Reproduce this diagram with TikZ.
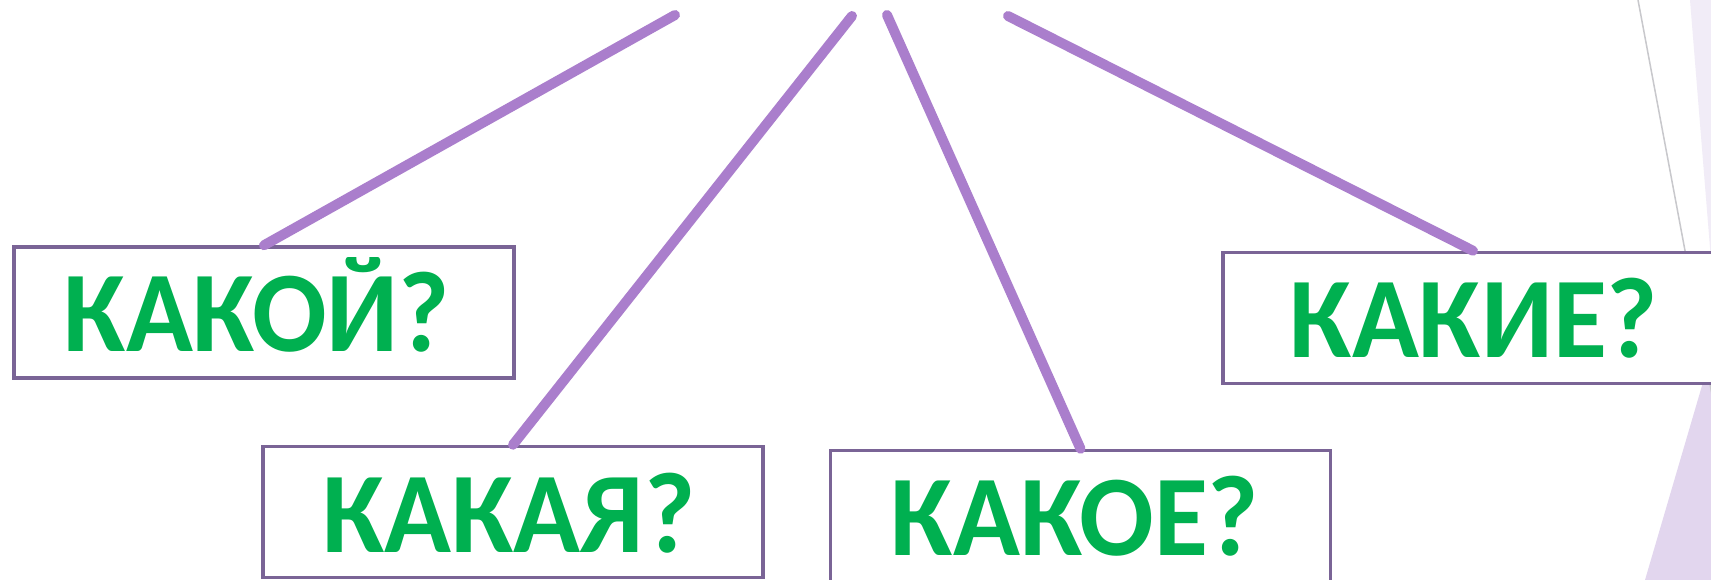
\documentclass[tikz,border=0pt]{standalone}
\usepackage{fontspec}
\setmainfont{Carlito}
\newfontfamily\qfont[FakeStretch=0.96]{Carlito}
\definecolor{linkc}{RGB}{170,126,204}
\definecolor{boxc}{RGB}{122,100,150}
\definecolor{txtc}{RGB}{0,176,80}
\definecolor{lavA}{RGB}{226,214,238}
\definecolor{lavB}{RGB}{241,236,247}
\definecolor{grayline}{RGB}{200,200,204}
\tikzset{
  qbox/.style={draw=boxc, line width=3.5pt, fill=white, minimum width=500pt, minimum height=131pt, inner sep=0pt},
  qtxt/.style={inner sep=0pt, anchor=base, text=txtc, font=\qfont\fontsize{115}{115}\selectfont\bfseries},
  link/.style={draw=linkc, line width=10pt, line cap=round}
}
\begin{document}
\begin{tikzpicture}[x=1pt,y=-1pt]
\useasboundingbox (0,0) rectangle (1711,580);
\clip (0,0) rectangle (1711,580);
\fill[white] (0,0) rectangle (1711,580);
% right-side theme decoration
\fill[lavB] (1690,0) -- (1711,0) -- (1711,260) -- cycle;
\fill[lavA] (1645,580) -- (1711,355) -- (1711,580) -- cycle;
\draw[grayline, line width=1.5pt] (1638,0) -- (1713,400);
% free top ends of connectors
\coordinate (t1) at (675,15);
\coordinate (t2) at (852,16);
\coordinate (t3) at (887,15);
\coordinate (t4) at (1008,16);
% boxes
\node[qbox] (k1) at (264,312.5) {};
\node[qbox] (k2) at (513,512) {};
\node[qbox] (k3) at (1080.5,516) {};
\node[qbox] (k4) at (1473,318) {};
% texts
\node[qtxt] (w1) at (257,351) {КАКОЙ?};
\node[qtxt] (w2) at (509,552) {КАКАЯ?};
\node[qtxt] (w3) at (1075,555) {КАКОЕ?};
\node[qtxt] (w4) at (1474,357) {КАКИЕ?};
% connectors
\draw[link] (t1) -- (k1.north);
\draw[link] (t2) -- (k2.north);
\draw[link] (t3) -- (k3.north);
\draw[link] (t4) -- (k4.north);
\end{tikzpicture}
\end{document}
